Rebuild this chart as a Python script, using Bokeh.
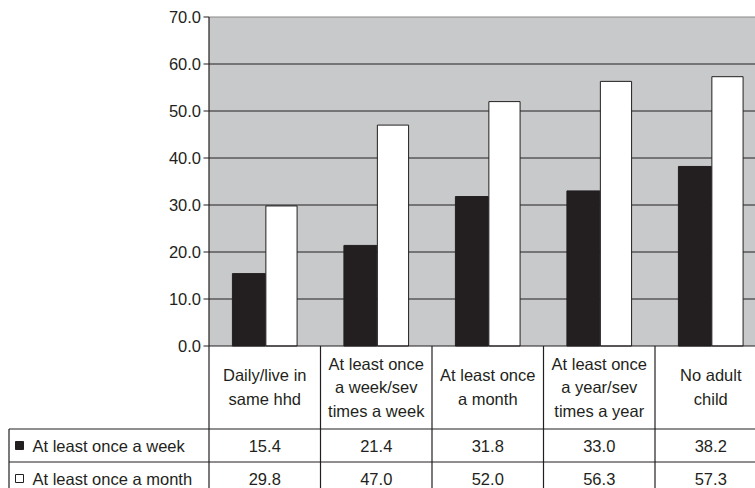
from bokeh.plotting import figure
from bokeh.models import ColumnDataSource, Range1d
from bokeh.transform import dodge
from bokeh.core.properties import value
from bokeh.embed import file_html
from bokeh.resources import INLINE

categories = ["Daily/live in\nsame hhd",
              "At least once\na week/sev\ntimes a week",
              "At least once\na month",
              "At least once\na year/sev\ntimes a year",
              "No adult\nchild"]
weekly = [15.4, 21.4, 31.8, 33.0, 38.2]
monthly = [29.8, 47.0, 52.0, 56.3, 57.3]
series_names = ["At least once a week", "At least once a month"]
y_ticks = [0, 10, 20, 30, 40, 50, 60, 70]

FONT = "Liberation Sans"
FS = "16.5px"
DARK = "#231f20"
GRAY_BG = "#c8c9cb"

# page geometry (page pixels; Bokeh's page has no body margin)
W, H = 755, 488
COL = 111.5            # px per category column
X0 = 208.5             # page px of the value axis
Y0 = 345.5             # page px of value 0
PPU = 4.7              # px per value unit


def xp(px):
    return (px - X0) / COL


def yp(py):
    return (Y0 - py) / PPU


x_start, x_end = xp(0), xp(W)
y_top, y_bot = yp(0), yp(H)
xmax = x_end

p = figure(width=W, height=H, x_range=Range1d(x_start, x_end), y_range=Range1d(y_bot, y_top),
           x_axis_type=None, y_axis_type=None, min_border=0, toolbar_location=None,
           output_backend="svg", outline_line_color=None, background_fill_color="white",
           border_fill_color="white")
p.grid.visible = False

pos = [i + 0.5 for i in range(len(categories))]
src = ColumnDataSource(dict(pos=pos, weekly=weekly, monthly=monthly))

# plot area background
p.quad(left=[0], right=[xmax], bottom=[0], top=[y_ticks[-1]], fill_color=GRAY_BG, line_color=None)
# grid lines
grid = y_ticks[1:-1]
p.segment(x0=[0] * len(grid), y0=grid, x1=[xmax] * len(grid), y1=grid, line_color=DARK, line_width=1)
p.segment(x0=[0], y0=[y_ticks[-1]], x1=[xmax], y1=[y_ticks[-1]], line_color="#8a8a8a", line_width=1.2)

# bars
p.vbar(x=dodge("pos", -0.1425, range=p.x_range), top="weekly", width=0.295, bottom=0, source=src,
       fill_color=DARK, line_color=DARK, line_width=1)
p.vbar(x=dodge("pos", 0.15, range=p.x_range), top="monthly", width=0.28, bottom=0, source=src,
       fill_color="white", line_color=DARK, line_width=1)

# value axis: line, ticks, labels
p.segment(x0=[0], y0=[y_ticks[-1]], x1=[0], y1=[y_bot], line_color=DARK, line_width=1.2)
p.segment(x0=[xp(203)] * len(y_ticks), y0=y_ticks, x1=[0] * len(y_ticks), y1=y_ticks,
          line_color=DARK, line_width=1.2)
p.text(x=[0] * len(y_ticks), y=y_ticks, text=["%.1f" % v for v in y_ticks], x_offset=-8,
       text_align="right", text_baseline="middle", text_font=value(FONT),
       text_font_size=FS, text_color=DARK)

# ---------------- data table ----------------
ncol = len(categories)
r1 = yp(428.5)
r2 = yp(461.5)
left_x = xp(8.5)
p.segment(x0=[0, left_x, left_x], y0=[0, r1, r2], x1=[xmax] * 3, y1=[0, r1, r2],
          line_color=DARK, line_width=1.2)
p.segment(x0=list(range(1, ncol)), y0=[0] * (ncol - 1), x1=list(range(1, ncol)),
          y1=[y_bot] * (ncol - 1), line_color=DARK, line_width=1.2)
p.segment(x0=[left_x], y0=[r1], x1=[left_x], y1=[y_bot], line_color=DARK, line_width=1.2)

# header labels
hx, hy, ht = [], [], []
LH = 23.5
for i, lab in enumerate(categories):
    lines = lab.split("\n")
    n = len(lines)
    for j, ln in enumerate(lines):
        hx.append(pos[i])
        hy.append(yp(386.5 - ((n - 1) / 2 - j) * LH))
        ht.append(ln)
p.text(x=hx, y=hy, text=ht, text_align="center", text_baseline="middle",
       text_font=value(FONT), text_font_size=FS, text_color=DARK)

# value rows
rows_y = [yp(445), yp(478)]
for series, ry in zip([weekly, monthly], rows_y):
    p.text(x=pos, y=[ry] * len(series), text=["%.1f" % v for v in series],
           text_align="center", text_baseline="middle",
           text_font=value(FONT), text_font_size=FS, text_color=DARK)

# row labels with legend squares
p.text(x=[xp(32)] * 2, y=rows_y, text=series_names, text_align="left",
       text_baseline="middle", text_font=value(FONT), text_font_size=FS, text_color=DARK)
p.scatter(x=[xp(19)], y=[rows_y[0]], marker="square", size=8, fill_color=DARK, line_color=DARK)
p.scatter(x=[xp(19)], y=[rows_y[1]], marker="square", size=8, fill_color="white", line_color=DARK)

open("out.html", "w").write(file_html(p, INLINE))
